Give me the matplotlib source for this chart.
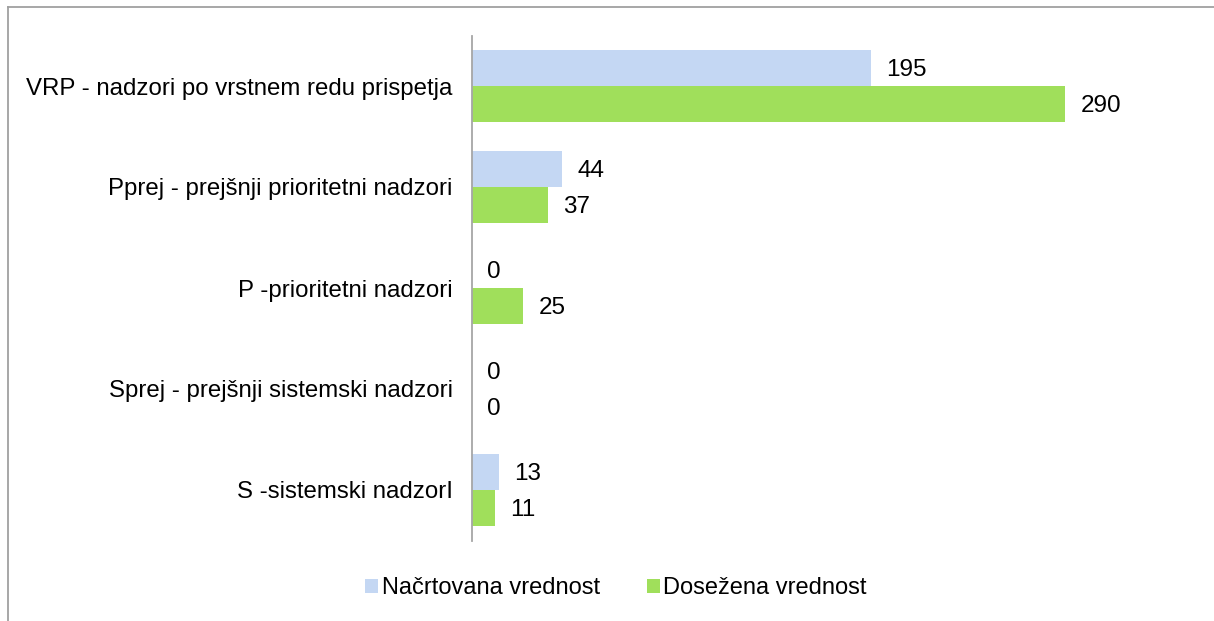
import matplotlib
matplotlib.use("Agg")
import matplotlib.pyplot as plt
from matplotlib.lines import Line2D
from matplotlib.patches import Patch
import numpy as np

categories = ["VRP - nadzori po vrstnem redu prispetja",
              "Pprej - prejšnji prioritetni nadzori",
              "P -prioritetni nadzori",
              "Sprej - prejšnji sistemski nadzori",
              "S -sistemski nadzorI"]
planned = [195, 44, 0, 0, 13]
achieved = [290, 37, 25, 0, 11]
series_names = ["Načrtovana vrednost", "Dosežena vrednost"]

c_blue = "#C4D7F3"
c_green = "#A0DF5B"

plt.rcParams['font.family'] = ['Liberation Sans', 'DejaVu Sans']

W, H = 1214, 621
fig = plt.figure(figsize=(W/100, H/100), dpi=100)
ax = fig.add_axes([472/W, 1-540.5/H, 716/W, 505/H])

y = np.arange(len(categories))
bh = 0.356
b1 = ax.barh(y - bh/2, planned, height=bh, color=c_blue, edgecolor='none')
b2 = ax.barh(y + bh/2, achieved, height=bh, color=c_green, edgecolor='none')

for bars, vals in ((b1, planned), (b2, achieved)):
    for rect, v in zip(bars, vals):
        ax.annotate(str(v), (rect.get_width(), rect.get_y() + rect.get_height()/2),
                    xytext=(11, -1.2), textcoords='offset points',
                    ha='left', va='center', fontsize=17.5, color='black')

ax.set_xlim(0, 350)
ax.set_ylim(len(categories) - 0.5, -0.5)
ax.set_yticks(y)
ax.set_yticklabels(categories, fontsize=17.3)
ax.tick_params(axis='y', length=0, pad=14)
ax.set_xticks([])
for s in ['top', 'right', 'bottom']:
    ax.spines[s].set_visible(False)
ax.spines['left'].set_color('#A6A6A6')
ax.spines['left'].set_linewidth(1.3)

handles = [Patch(facecolor=c_blue, edgecolor='none'), Patch(facecolor=c_green, edgecolor='none')]
fig.legend(handles, series_names, loc='center', bbox_to_anchor=(616/W, 1-588/H),
           ncol=2, frameon=False, fontsize=17, handlelength=0.55, handleheight=0.55,
           handletextpad=0.15, columnspacing=2.0)

# chart border
fig.add_artist(Line2D([8/W, 8/W], [0, 1-7/H], transform=fig.transFigure, color='#A0A0A0', lw=1.3))
fig.add_artist(Line2D([8/W, 1], [1-7/H, 1-7/H], transform=fig.transFigure, color='#A0A0A0', lw=1.3))

fig.savefig("out.png", dpi=100)
